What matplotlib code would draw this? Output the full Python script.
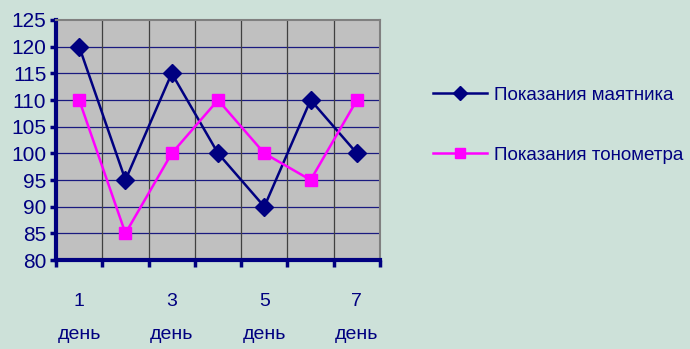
import matplotlib
matplotlib.use("Agg")
import matplotlib.pyplot as plt

days = ["1", "2", "3", "4", "5", "6", "7"]
pendulum = [120, 95, 115, 100, 90, 110, 100]
tonometer = [110, 85, 100, 110, 100, 95, 110]
y_ticks = [80, 85, 90, 95, 100, 105, 110, 115, 120, 125]

navy = "#000080"
bg = "#cde1d9"
plt.rcParams["font.family"] = ["Liberation Sans", "DejaVu Sans"]

fig = plt.figure(figsize=(6.9, 3.49), dpi=100, facecolor=bg)
ax = fig.add_axes([0.0812, 0.255, 0.4696, 0.6877])
ax.set_facecolor("#c0c0c0")

x = list(range(len(days)))
l1, = ax.plot(x, pendulum, color=navy, lw=1.8, marker="D", ms=9,
              mfc=navy, mec=navy, label="Показания маятника", zorder=3)
l2, = ax.plot(x, tonometer, color="#ff00ff", lw=1.8, marker="s", ms=8.5,
              mfc="#ff00ff", mec="#ff00ff", label="Показания тонометра", zorder=3)

ax.set_xlim(-0.5, len(days) - 0.5)
ax.set_ylim(80, 125)
ax.set_yticks(y_ticks)
ax.set_yticklabels([str(v) for v in y_ticks], fontsize=15, color=navy)

# category boundaries carry the ticks and vertical grid
ax.set_xticks([i - 0.5 for i in range(len(days) + 1)])
ax.set_xticklabels([])
ax.set_xticks(x[::2], minor=True)
ax.set_xticklabels([days[i] + "\n\nдень" for i in x[::2]], minor=True,
                   fontsize=14, color=navy, linespacing=0.95)
ax.tick_params(axis="x", which="minor", length=0, pad=24)
ax.tick_params(axis="x", which="major", direction="out", length=5, width=2.5, color=navy)
ax.tick_params(axis="y", direction="out", length=4, width=2.5, color=navy, pad=3)

for v in y_ticks[1:-1]:
    ax.axhline(v, color="#1a1a80", lw=0.9, zorder=1)
for b in ax.get_xticks()[1:-1]:
    ax.axvline(b, color="#404040", lw=0.9, zorder=1)

for side in ("left", "bottom"):
    ax.spines[side].set_color(navy)
    ax.spines[side].set_linewidth(3)
for side in ("top", "right"):
    ax.spines[side].set_color("#808080")
    ax.spines[side].set_linewidth(1.5)

fig.legend(handles=[l1, l2], loc="upper left", bbox_to_anchor=(0.603, 0.80),
           frameon=False, fontsize=13.5, labelcolor=navy, handlelength=2.9,
           handletextpad=0.35, labelspacing=2.3, markerscale=0.8)

fig.savefig("out.png", dpi=100, facecolor=bg)
